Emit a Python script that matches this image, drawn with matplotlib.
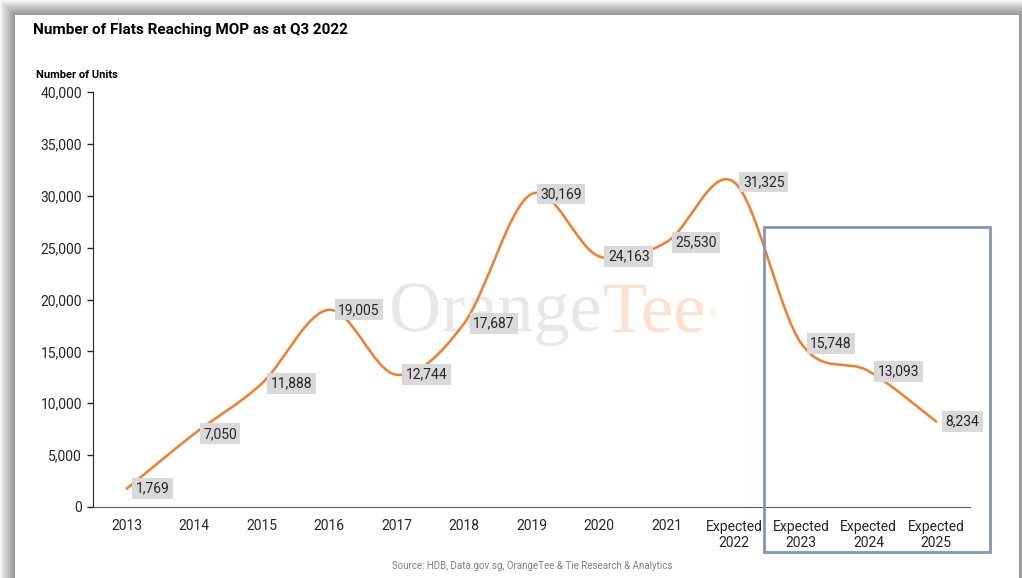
import numpy as np
import matplotlib.pyplot as plt
from matplotlib.path import Path
from matplotlib.patches import PathPatch, Rectangle

plt.rcParams['font.family'] = ['Roboto', 'DejaVu Sans']

# data
years = ['2013', '2014', '2015', '2016', '2017', '2018', '2019', '2020', '2021',
         'Expected\n2022', 'Expected\n2023', 'Expected\n2024', 'Expected\n2025']
units = [1769, 7050, 11888, 19005, 12744, 17687, 30169, 24163, 25530,
         31325, 15748, 13093, 8234]

W, H = 1022, 578
fig = plt.figure(figsize=(W / 100, H / 100), dpi=100)
fig.patch.set_facecolor('white')

# card with a soft shadow around it
for d in range(15, 0, -1):
    fig.add_artist(Rectangle(((15 - d) / W, 0), (1004 + 2 * d) / W, (H - 15 + d) / H,
                             transform=fig.transFigure, facecolor='black', alpha=0.03,
                             edgecolor='none', zorder=-10))
fig.add_artist(Rectangle((15 / W, 0), 1004 / W, (H - 15) / H, transform=fig.transFigure,
                         facecolor='white', edgecolor='none', zorder=-9))

ax = fig.add_axes([93 / W, 1 - 507 / H, 877 / W, 415 / H])
ax.set_facecolor('none')

x = np.arange(len(units))
y = np.array(units, dtype=float)
pts = np.column_stack([x, y])

# smoothed line (Catmull-Rom as cubic Bezier segments)
verts = [pts[0]]
codes = [Path.MOVETO]
n = len(pts)
for i in range(n - 1):
    p0, p3 = pts[i], pts[i + 1]
    prev = pts[i - 1] if i > 0 else pts[i]
    nxt = pts[i + 2] if i + 2 < n else pts[i + 1]
    c1 = p0 + (p3 - prev) / 6
    c2 = p3 - (nxt - p0) / 6
    verts += [c1, c2, p3]
    codes += [Path.CURVE4] * 3
ax.add_patch(PathPatch(Path(verts, codes), facecolor='none', edgecolor='#f47c2c',
                       lw=1.8, zorder=3, capstyle='round'))

for xi, yi in zip(x, units):
    ax.annotate(f'{yi:,}', (xi, yi), xytext=(9, 0), textcoords='offset pixels',
                ha='left', va='center', fontsize=10, color='#262626', zorder=5,
                bbox=dict(boxstyle='square,pad=0.25', facecolor='#d9d9d9', edgecolor='none'))

ax.set_xlim(-0.5, len(units) - 0.5)
ax.set_ylim(0, 40000)
ax.set_yticks(np.arange(0, 40001, 5000))
ax.set_yticklabels([f'{v:,}' for v in range(0, 40001, 5000)])
ax.set_xticks(x)
ax.set_xticklabels(years)
ax.tick_params(axis='y', length=4, width=1, pad=4, labelsize=10, colors='#262626')
ax.tick_params(axis='x', length=0, pad=9, labelsize=10, colors='#262626')
for s in ['top', 'right']:
    ax.spines[s].set_visible(False)
ax.spines['left'].set_color('#262626')
ax.spines['bottom'].set_color('#595959')

# watermark (behind the line and labels)
ax.text(602 / W, 1 - 331 / H, 'Orange', ha='right', va='baseline', fontsize=52,
        family='Liberation Serif', color='#e8e8e8', zorder=1, transform=fig.transFigure)
ax.text(603 / W, 1 - 331 / H, 'Tee', ha='left', va='baseline', fontsize=52,
        family='Liberation Serif', color='#fde1cf', zorder=1, transform=fig.transFigure)
ax.text(712 / W, 1 - 314 / H, '®', ha='center', va='center', fontsize=7,
        color='#f5e6dc', zorder=1, transform=fig.transFigure)

# highlight box around forecast years
fig.add_artist(Rectangle((764 / W, 1 - 552 / H), 226 / W, 325 / H, transform=fig.transFigure,
                         facecolor='none', edgecolor='#8497b0', lw=2, zorder=6))

fig.text(33 / W, 1 - 30 / H, 'Number of Flats Reaching MOP as at Q3 2022', ha='left',
         va='center', fontsize=11, fontweight='bold', color='#000000')
fig.text(36 / W, 1 - 75 / H, 'Number of Units', ha='left', va='center', fontsize=8,
         fontweight='bold', color='#000000')
fig.text(532 / W, 1 - 566 / H, 'Source: HDB, Data.gov.sg, OrangeTee & Tie Research & Analytics',
         ha='center', va='center', fontsize=7, color='#7f7f7f')

fig.savefig('out.png', dpi=100)
